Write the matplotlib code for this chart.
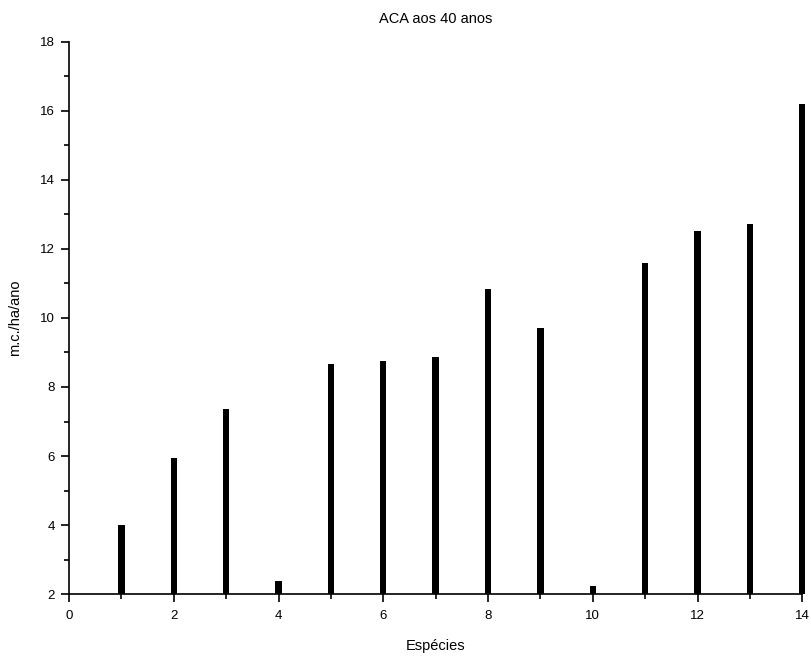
import matplotlib
matplotlib.use("Agg")
import matplotlib.pyplot as plt
from matplotlib.ticker import MultipleLocator

# Species index and annual increment (m.c./ha/ano) at 40 years
especies = list(range(1, 15))
incremento = [4.0, 5.95, 7.36, 2.38, 8.66, 8.75, 8.88, 10.85, 9.72, 2.24,
              11.6, 12.53, 12.72, 16.2]

titulo = "ACA aos 40 anos"
rotulo_x = "Espécies"
rotulo_y = "m.c./ha/ano"

y_min, y_max = 2, 18

plt.rcParams["font.family"] = ["Liberation Sans", "DejaVu Sans"]

fig = plt.figure(figsize=(8.12, 6.56), dpi=100)
ax = fig.add_axes([0.085, 0.0945, 0.903, 0.8415])

# bars rise from the bottom of the value axis
alturas = [v - y_min for v in incremento]
ax.bar(especies, alturas, bottom=y_min, width=0.12, color="black",
       clip_on=False)

ax.set_xlim(0, 14)
ax.set_ylim(y_min, y_max)
ax.xaxis.set_major_locator(MultipleLocator(2))
ax.xaxis.set_minor_locator(MultipleLocator(1))
ax.yaxis.set_major_locator(MultipleLocator(2))
ax.yaxis.set_minor_locator(MultipleLocator(1))

for side in ("top", "right"):
    ax.spines[side].set_visible(False)
for side in ("left", "bottom"):
    ax.spines[side].set_linewidth(1.2)

ax.tick_params(which="major", length=6, width=1.2, labelsize=9.5, pad=4)
ax.tick_params(axis="x", which="major", pad=5.5)
ax.tick_params(which="minor", length=3.5, width=1.2)

ax.set_title(titulo, fontsize=10.5, pad=14)
ax.set_xlabel(rotulo_x, fontsize=10.5, labelpad=12)
ax.set_ylabel(rotulo_y, fontsize=10.5, labelpad=13)

fig.savefig("out.png", dpi=100)
